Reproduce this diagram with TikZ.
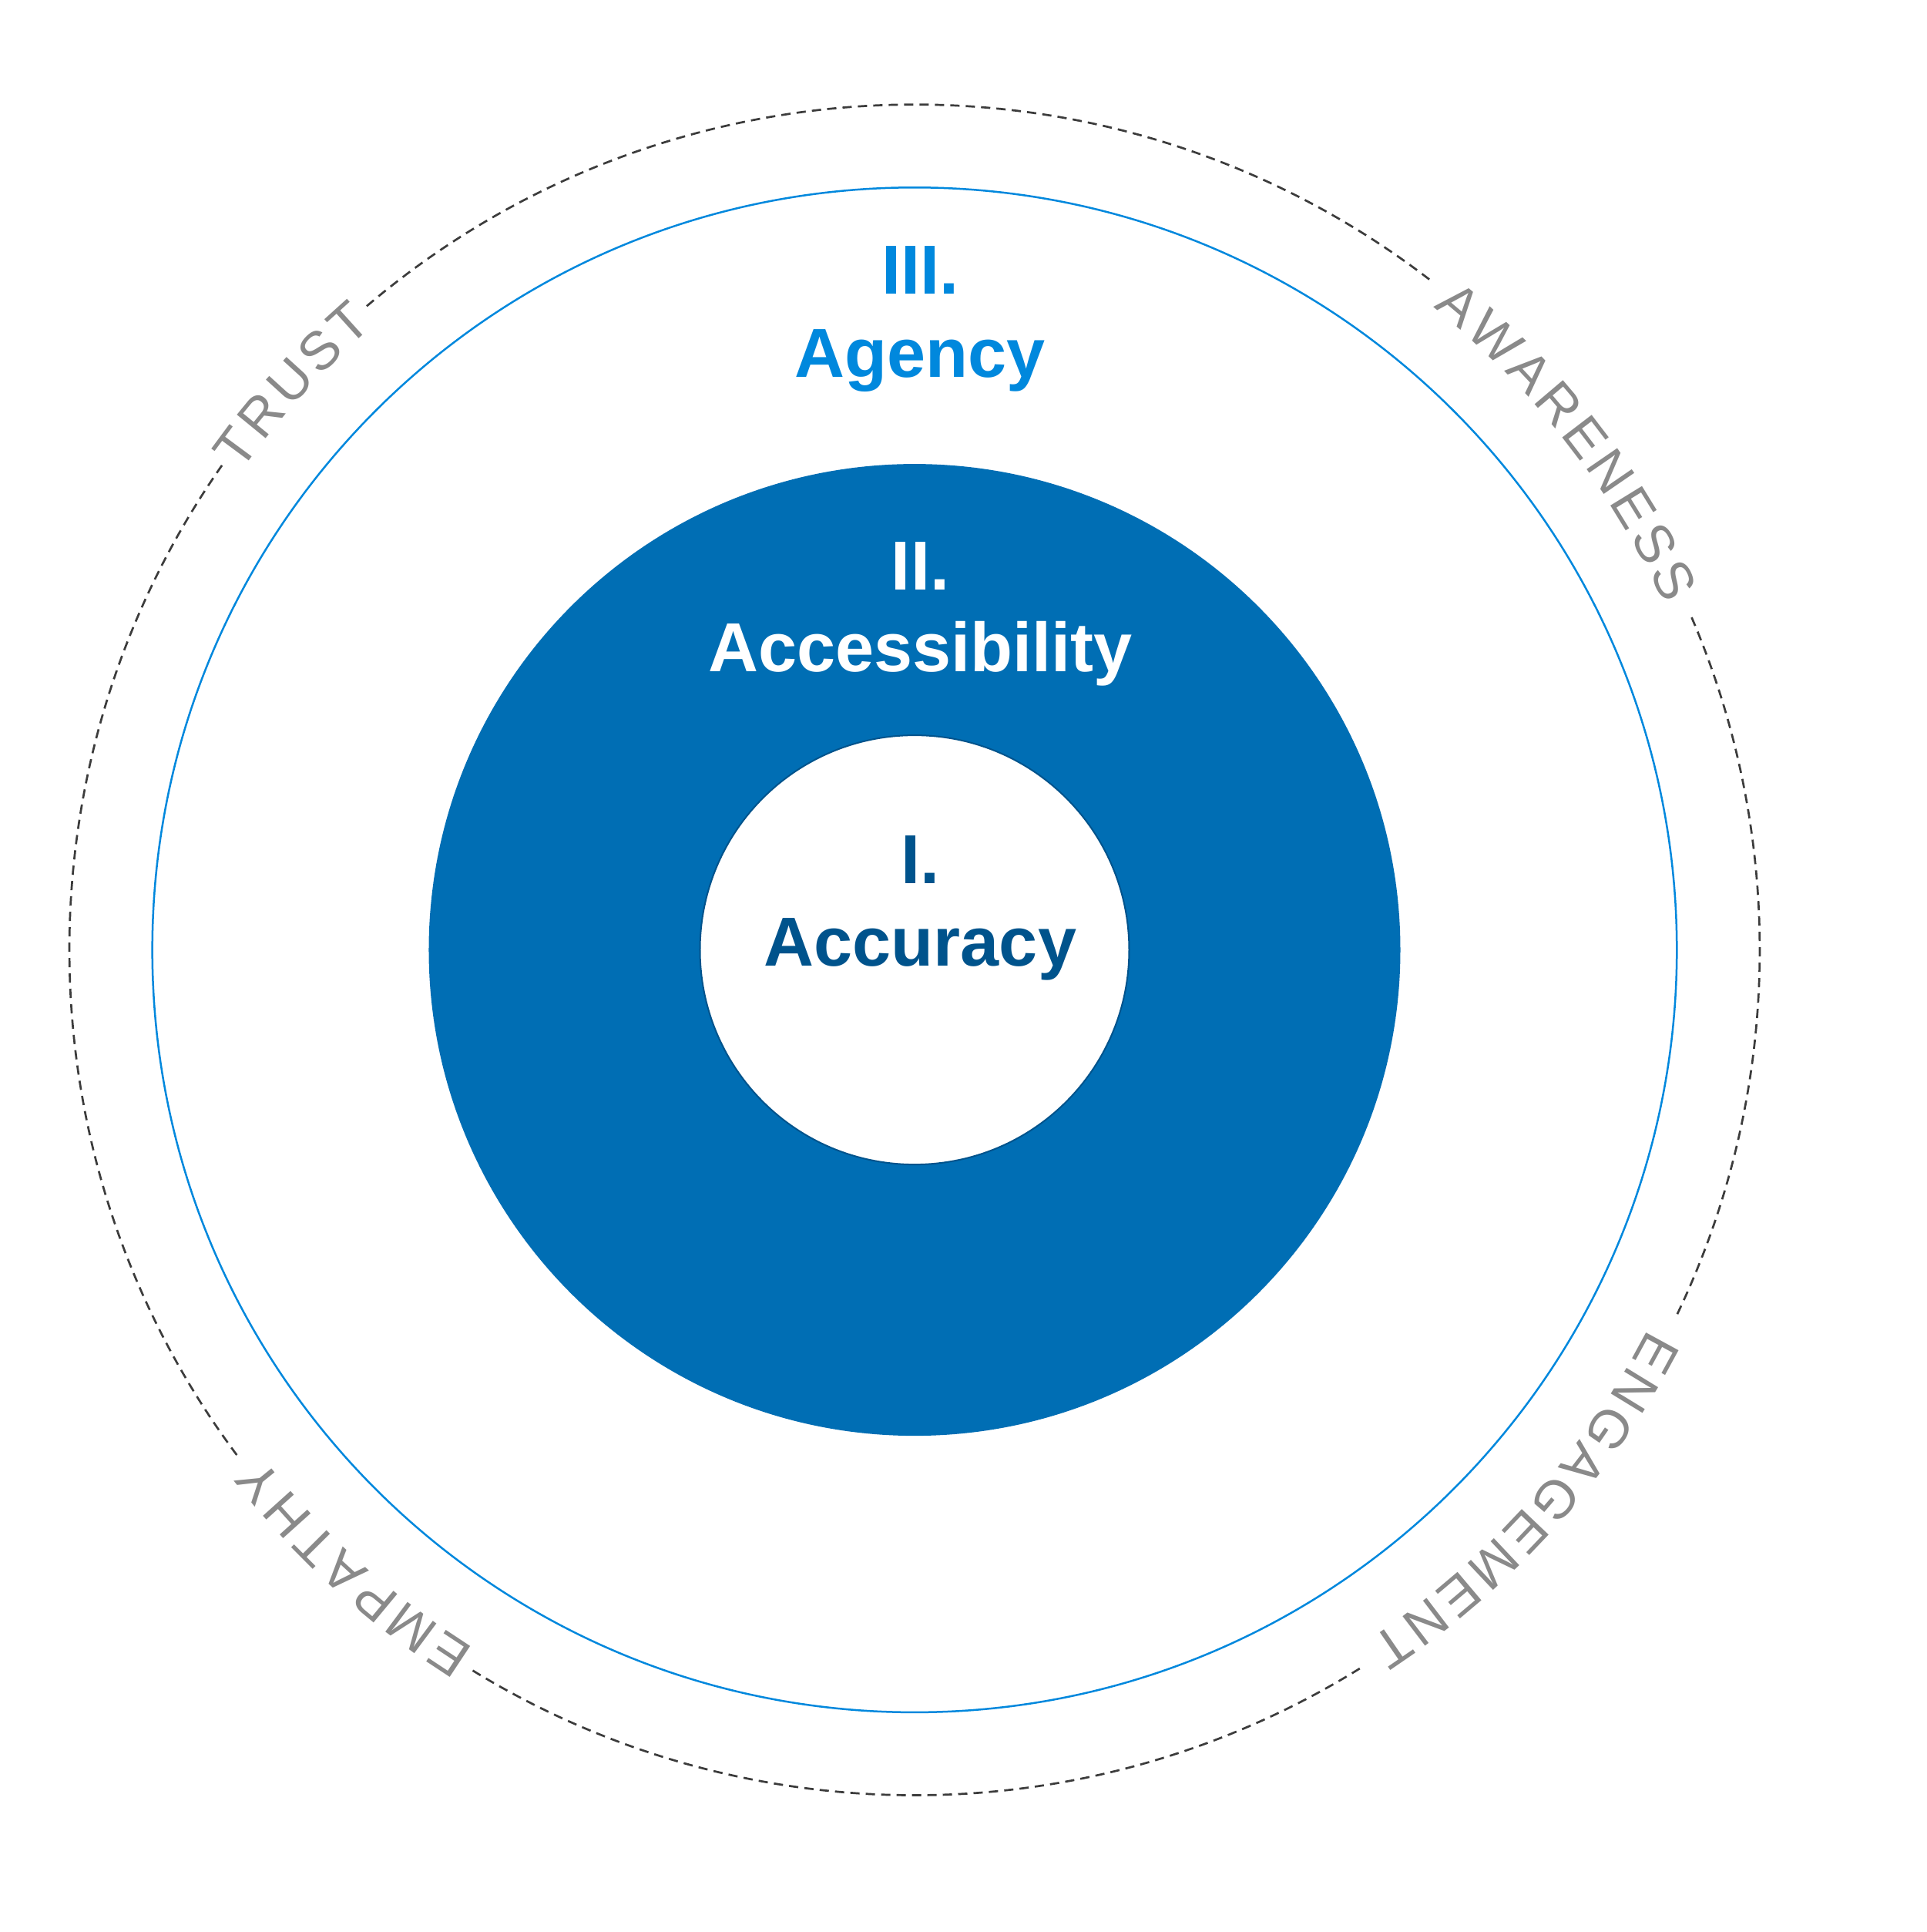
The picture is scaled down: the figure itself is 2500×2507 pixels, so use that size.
\documentclass[tikz,border=0pt]{standalone}
\usepackage{fontspec}
\setmainfont{Liberation Sans}
\newfontfamily\arcff{Liberation Sans}
\definecolor{ringblue}{RGB}{0,136,221}
\definecolor{fillblue}{RGB}{0,110,180}
\definecolor{darkblue}{RGB}{0,83,140}
\definecolor{wordgray}{RGB}{138,138,138}
\definecolor{dashgray}{RGB}{60,60,60}
\def\arcR{1097}
\def\trk{7}
\def\fsz{0.07}
\newcommand\arcfont{\arcff\fontsize{70}{84}\selectfont}
% #1 name prefix, #2 middle angle, #3 list letter/advance width (per 1000 em)
\newcommand\arcword[3]{%
  \gdef\arctot{0}%
  \foreach \ch/\lw in {#3}{%
    \pgfmathsetmacro\tmpw{\arctot+\lw*\fsz+\trk}%
    \xdef\arctot{\tmpw}%
  }%
  \pgfmathsetmacro\tmpa{#2+deg((\arctot-\trk)/2/\arcR)}%
  \xdef\arcang{\tmpa}%
  \foreach \ch/\lw [count=\k] in {#3}{%
    \pgfmathsetmacro\ca{\arcang-deg(\lw*\fsz/2/\arcR)}%
    \node[arcletter,rotate=\ca-90] (#1-\k) at (\ca:\arcR) {\ch};%
    \pgfmathsetmacro\tmpa{\arcang-deg((\lw*\fsz+\trk)/\arcR)}%
    \xdef\arcang{\tmpa}%
  }%
}
\tikzset{
  arcletter/.style={font=\arcfont, text=wordgray, inner sep=0pt, text height=50.1pt, text depth=0pt, anchor=center},
  dashline/.style={draw=dashgray, line width=2.7pt, dash pattern=on 12pt off 8pt},
  lbl/.style={font=\bfseries\fontsize{90}{108}\selectfont, inner sep=0pt, anchor=base},
}
\begin{document}
\begin{tikzpicture}[x=1pt,y=1pt]
\fill[white] (-1187,-1274.4) rectangle (1313,1232.6);
\useasboundingbox (-1187,-1274.4) rectangle (1313,1232.6);
% dashed outer ring, broken where the words sit
\draw[dashline] (52.48:\arcR) arc[start angle=52.48, end angle=130.5, radius=\arcR];
\draw[dashline] (145.03:\arcR) arc[start angle=145.03, end angle=216.9, radius=\arcR];
\draw[dashline] (238.48:\arcR) arc[start angle=238.48, end angle=301.87, radius=\arcR];
\draw[dashline] (334.48:\arcR) arc[start angle=334.48, end angle=383.34, radius=\arcR];
% words on the ring
\arcword{trust}{137.8}{T/611,R/722,U/722,S/667,T/611}
\arcword{aware}{37.9}{A/667,W/944,A/667,R/722,E/667,N/722,E/667,S/667,S/667}
\arcword{engage}{-42.0}{E/667,N/722,G/778,A/667,G/778,E/667,M/833,E/667,N/722,T/611}
\arcword{empathy}{227.8}{E/667,M/833,P/667,A/667,T/611,H/722,Y/667}
% rings
\draw[ringblue, line width=2.5pt] (0,0) circle[radius=989.3];
\fill[fillblue] (0,0) circle[radius=630.5];
\draw[fill=white, draw=darkblue, line width=2pt] (0,0) circle[radius=278.5];
% labels
\node[lbl, text=ringblue] (agnum) at (7.5,850.9) {III.};
\node[lbl, text=ringblue] (agname) at (7.5,742.6) {Agency};
\node[lbl, text=white] (accnum) at (7.5,466.6) {II.};
\node[lbl, text=white] (accname) at (7.5,361.1) {Accessibility};
\node[lbl, text=darkblue] (acunum) at (7.5,85.9) {I.};
\node[lbl, text=darkblue] (acuname) at (7.5,-21.4) {Accuracy};
\end{tikzpicture}
\end{document}
